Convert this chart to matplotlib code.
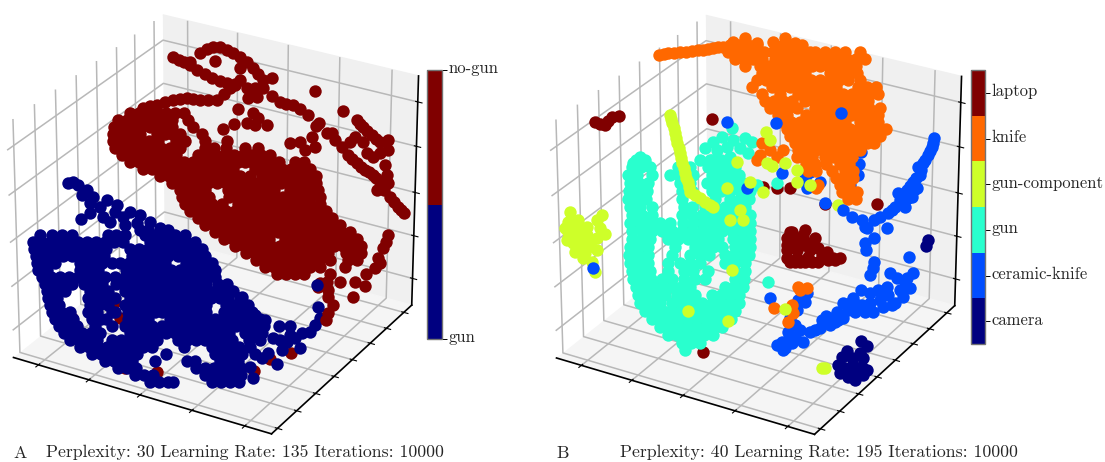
import numpy as np
import matplotlib
matplotlib.use("Agg")
import matplotlib.pyplot as plt
from matplotlib.colors import ListedColormap, BoundaryNorm
from matplotlib.colorbar import Colorbar

plt.rcParams["font.family"] = ["cmr10", "DejaVu Serif"]
plt.rcParams["axes.formatter.use_mathtext"] = True
plt.rcParams["axes.unicode_minus"] = False

W, H = 1105, 462
DOT = 80

# t-SNE points (x px, y px); rows are (y, [x, ...])
a_nogun_top = [(173,57),(179,60),(190,65),(205,74),(220,81),(235,85),(247,88),(263,88),(272,96),(280,102),(293,105),(300,109),(308,115),
    (319,123),(316,126),(315,91),(343,111),(184,62),(190,62),(197,70),(212,78),(227,83),(255,88),(286,104),(200,53),(207,49),(213,47),(220,47),(227,50),(233,53),(240,57),(247,62),(253,68),(258,74),
    (263,80),(272,78),(215,61),(240,68),(240,80),(235,84),(230,88),(224,94),(217,100),(208,100),(200,100),(193,99),(187,98),(180,99),(173,100),(165,102),(157,105),(150,106),(143,108),
    (248,98),(257,97),(252,90),(238,109),(223,129),(234,124),(247,123),(253,113),(258,118),(255,125),(267,125)]
a_nogun_mass = [
    (113, [130,139,148,157,166,175,184]),
    (120, [118,127,136,145,154,163,172,188]),
    (127, [114,123,132,141,150,158,165,172,193]),
    (134, [113,122,131,140,157,165,172,180,202]),
    (141, [113,122,131,140,149,158,176,185,205,227]),
    (148, [115,124,133,142,152,161,170,180,205,214,226,245,258]),
    (155, [122,131,140,149,158,167,176,198,207,216,225,234,243,252,261,270]),
    (162, [130,139,148,157,166,175,184,193,202,211,220,229,238,245,252,261,270,279,295,304]),
    (169, [143,152,161,170,179,188,197,206,215,224,233,255,264,273,282,291,300,310]),
    (176, [160,169,178,187,196,205,214,223,232,240,250,262,271,280,289,298,307,316]),
    (183, [172,181,190,199,208,217,226,236,245,254,263,272,281,290,299,308,316]),
    (190, [180,189,198,205,228,238,247,256,265,274,290,299,308,318]),
    (197, [182,191,200,209,229,238,247,256,265,274,283,292,301,310,320]),
    (204, [185,194,203,212,222,238,247,256,265,274,283,292,301,310,320]),
    (211, [190,199,208,217,226,235,244,253,262,271,280,289,298,307,316,326]),
    (218, [198,207,216,225,234,243,252,261,270,279,288,297,306,315,324,332]),
    (225, [205,214,223,232,241,250,259,268,277,286,295,304,313,322,331,340]),
    (232, [215,224,233,242,251,260,269,278,287,296,305,314,323,332,341,350]),
    (239, [224,233,242,251,260,269,285,294,303,312,321,330,339,348,357]),
    (246, [235,244,253,262,271,280,289,298,307,316,325,334,343,352,361]),
    (253, [246,255,264,273,282,291,300,309,318,328,346,355,361]),
    (260, [256,265,274,283,292,301,310,319,330,348,357]),
    (267, [265,274,283,292,301,310,320,345]),
    (274, [277,286,295,304,330]),
]
a_nogun_tail = [(327,282),(340,282),(320,283),(328,290),(328,297),(333,305),(328,313),(326,320),(318,287),(355,282),(365,286),(353,297),
    (366,274),(375,268),(380,263),(378,258),(383,248),(388,235),(386,242)]
a_nogun_streaks = [(357,120),(360,124),(363,127),(367,131),(372,135),(376,139),(380,142),(388,140),(388,150),(380,153),(367,153),(373,157),
    (385,165),(387,175),(355,137),(350,142),(363,142),(332,133),(335,140),(342,147),(348,155),(352,159),(357,163),(361,167),(365,170),(369,172),(373,175),(376,178),(380,182),
    (388,183),(377,190),(384,190),(390,197),(394,202),(398,207),(401,210),(404,213),(327,133),(290,143),(300,142),(312,137),(315,147),(305,150)]
a_nogun_under = [(72,318),(125,368),(157,372),(152,378),(115,302),(120,318),(270,359),(291,353),(254,371)]

a_gun_top = [(68,183),(73,182),(78,185),(87,190),(93,197),(107,200),(117,205),(130,212),(140,215),(150,222),(160,228),(81,219),(90,213),
    (103,217),(110,222),(100,207),(123,217),(137,223),(90,203),(82,195),(115,212),(148,230),(125,225),(140,230),(168,230)]
a_gun_mass = [
    (235, [40,52,62,72,108,116,125,145,155,165,175,185]),
    (242, [33,42,51,60,69,78,87,96,105,114,123,150,159,168,177,186,195]),
    (249, [34,43,52,61,70,79,88,97,106,130,139,148,157,166,175,184,193,202]),
    (256, [36,45,54,63,72,78,86,95,104,132,141,150,159,168,178,187,196,205]),
    (263, [37,46,55,80,84,93,102,112,120,129,138,147,156,165,186,195,204,212]),
    (270, [38,47,80,89,98,126,135,144,153,162,171,180,189,198,207,215]),
    (277, [42,51,60,69,78,87,96,105,115,125,134,143,152,161,170,179,188,197,206,215]),
    (284, [45,54,63,72,84,93,102,116,125,134,143,152,161,170,179,188,197,206,218,227]),
    (291, [47,56,65,90,99,108,125,134,143,152,161,170,179,188,197,206,215,224,233]),
    (298, [48,57,88,97,106,115,130,139,148,157,166,175,184,193,202,211,220,228,240]),
    (305, [50,59,90,99,108,125,134,143,152,161,170,179,188,197,206,226,235,244]),
    (312, [52,61,70,88,97,112,115,128,137,146,155,162,170,179,188,197,206,224,233,242,252]),
    (319, [55,64,73,92,101,106,128,137,148,170,179,188,197,206,215,224,233,242,251,260]),
    (326, [59,68,77,95,112,125,134,143,152,162,173,182,191,200,209,218,227,236,245,254,264]),
    (333, [64,73,82,91,100,130,139,148,157,166,175,184,193,202,211,220,229,245,254,262]),
    (340, [70,79,88,97,112,121,130,139,148,157,178,187,196,205,214,223,232,249]),
    (347, [80,89,98,107,116,125,134,143,152,184,212,221,230,239,250]),
    (354, [92,101,110,119,128,137,166,215,224,233,242,255]),
    (361, [105,114,123,132,155,187,195,220,229,238]),
    (368, [118,127,136,196,205,214,223,232,241]),
    (375, [135,144,153,205,214,223,232,241]),
    (382, [150,159,168,173,212,221,230,239]),
]
a_gun_tail = [(279,326),(290,326),(320,318),(315,325),(310,332),(302,333),(295,338),(287,342),(282,350),(300,348),(268,353),(262,358),(277,364),
    (250,367),(253,378),(317,285),(318,307),(242,297),(248,305),(255,315),(265,320),(260,328),(247,325),(260,340),(273,338),(280,340),(290,335)]

b_knife_top = [(659,55),(664,54),(668,53),(674,53),(680,52),(686,52),(692,51),(698,50),(703,50),(708,49),(713,48),(718,47),(723,47),(733,42),(745,38),(757,43),
    (773,42),(785,38),(795,43),(810,52)]
b_knife_mass = [
    (45, [730,739,748,757,775,784,793,802]),
    (52, [728,737,746,755,764,773,782,791,800,815,825,835,845,860]),
    (59, [735,744,753,762,775,784,793,802,811,820,829,838,847,856,865]),
    (66, [745,760,769,778,787,796,805,812,820,829,838,847,856]),
    (73, [762,771,780,789,798,805,830,839,848,857]),
    (80, [757,766,775,784,793,802,811,820,830,839,848,860]),
    (87, [752,772,781,790,800,809,818,827,836,858,867,876]),
    (94, [762,780,798,807,816,825,834,843,852,861,870,878]),
    (101, [765,774,783,792,805,814,823,832,841,850,859,868]),
    (108, [770,779,788,797,815,824,833,842,851,860,869,880]),
    (115, [778,787,806,815,824,833,842,851,860,869,878]),
    (122, [782,791,800,809,818,827,836,845,860,869,878]),
    (129, [787,796,805,814,823,832,841,850,859,868,877,886]),
    (136, [790,799,808,817,826,835,844,853,862,871,880]),
    (143, [795,804,813,822,831,840,849,858,867,874]),
    (150, [783,798,807,816,825,834,843,852,860]),
    (157, [797,803,812,825,834,843,852]),
    (164, [806,815,826,840,849]),
    (171, [808,816,832,845,853]),
    (178, [836,845,853]),
    (185, [818,840,849]),
    (192, [842,851,857]),
    (199, [848,856]),
]
b_knife_stray = [(762,143),(760,155),(770,150),(777,157),(757,160),(816,188),(798,287),(807,288),(774,308),(792,305),(788,322),(793,313),(800,290)]
b_ceramic_top = [(727,122),(782,173),(747,188),(807,173),(807,188),(851,145),(861,152),(859,164),(858,175),(850,185),(810,172),(805,178),(820,182),
    (825,203),(870,140)]
b_ceramic_front = [(776,123),(841,113)]
b_ceramic_right = [(934,138),(933,143),(932,147),(930,151),(928,155),(925,160),(923,163),(918,167),(920,175),(916,178),(913,182),(910,186),(907,190),(917,188),(912,197),(898,193),(905,207),
    (895,207),(888,213),(874,220),(887,228),(843,210),(852,217),(862,220),(865,227),(867,228),(874,238),(865,243),(866,250),(909,257),(874,262),
    (873,268),(870,275),(900,200),(880,217),(908,198),(902,200),(892,210),(921,170),(914,190),(905,195)]
b_ceramic_low = [(913,273),(890,273),(897,278),(905,282),(910,288),(903,297),(895,303),(887,287),(878,290),(880,300),(870,293),(861,290),(853,298),
    (862,305),(873,312),(865,312),(855,312),(843,303),(837,312),(843,318),(822,320),(830,325),(820,328),(810,332),(803,342),(795,337),(788,332),
    (785,348),(782,342),(792,343),(883,307),(892,305),(805,302),(797,310),(798,300),(807,293),(770,298),(777,345),(783,350),(593,268),(907,278),
    (848,310),(830,318),(815,330),(870,303),(888,295),(900,290),(795,325),(790,318),(838,320),(826,316),(850,303),(858,305),(835,322),(800,330),(788,340)]
b_gun_left = [(640,157),(633,163),(705,148),(713,142),(722,137),(732,128),(733,140),(745,138),(752,142),(727,147),(717,150),(740,148),(748,153),
    (710,160),(725,163),(730,157),(777,183),(757,185),(768,282)]
b_gun_mass = [
    (160, [636,645,700,712,721,730]),
    (167, [632,641,650,678,690,708,717,726,735]),
    (175, [628,637,652,670,679,688,693,712,721,730,739]),
    (183, [630,639,648,680,690,707,716,725,734,743]),
    (191, [629,638,647,682,692,712,721,730,740,750]),
    (199, [628,637,646,682,700,715,730,740,749]),
    (207, [630,640,652,684,692,705,715,725,735,745]),
    (215, [632,642,652,682,692,702,712,722,732,742,750]),
    (223, [630,640,650,660,670,683,693,703,713,723,733,743,750]),
    (231, [632,642,652,662,672,682,692,702,712,722,732,742,750]),
    (239, [632,641,650,668,678,688,698,708,718,733,742,750]),
    (247, [630,639,648,675,695,704,713,722,735,744,750]),
    (255, [629,638,648,672,690,700,709,725,734,743,749]),
    (263, [630,639,648,668,680,690,700,725,735,745]),
    (271, [632,641,650,668,684,693,708,735,745]),
    (279, [633,642,651,662,672,684,695,705,735,744]),
    (287, [636,645,654,663,672,681,690,725,734,743]),
    (295, [638,647,656,665,677,686,695,712,721,730,739]),
    (303, [640,650,660,672,682,692,702,712,721,730,739]),
    (311, [645,654,663,672,681,690,699,708,717,726,735]),
    (319, [652,661,670,679,688,697,706,715,724,731]),
    (327, [660,669,678,687,696,705,714,722]),
    (335, [668,677,686,695,704,713]),
    (343, [682,691,700]),
    (350, [685]),
]
b_component_blob = [(570,212),(578,220),(573,227),(602,215),(597,220),(587,227),(605,234),(568,232),(567,240),(577,235),(587,235),(597,238),(575,252),
    (588,247),(597,250),(583,258),(592,262),(595,272),(573,243),(583,243),(591,241),(568,222),(580,228),(565,228),(578,245),(585,253),(600,228)]
b_component_under = [(818,99),(838,205)]
b_component_streak = [(670,115),(671,119),(672,123),(674,128),(675,133),(676,138),(677,143),(679,148),(680,153),(681,158),(682,163),(684,168),(685,173),
    (686,178),(688,182),(689,187),(690,192),(695,195),(700,198),(705,202),(710,205),(713,207)]
b_component_stray = [(766,132),(770,140),(767,163),(772,166),(785,163),(797,170),(797,182),(810,185),(737,162),(727,188),(750,182),(763,192),(740,210),
    (730,220),(743,220),(688,311),(728,321),(732,270),(785,309),(825,368),(822,368)]
b_laptop = [(595,122),(600,124),(605,125),(612,117),(619,116),(608,121),(712,119),(777,188),(790,188),(763,187),(825,204),(877,204),(703,352),
    (790,232),(803,235),(787,245),(795,248),(805,245),(815,238),(787,258),(797,258),(808,257),(818,248),(827,252),(818,262),(833,258),(840,258),
    (800,262),(828,260),(792,232),(805,230),(790,262),(787,250),(810,250),(792,240),(803,241),(825,258),(797,240),(810,243),(822,255),(835,260),(797,250),(787,238),(812,262),(805,262),(795,262)]
b_camera = [(928,240),(926,246),(861,341),(867,346),(860,353),(847,351),(842,357),(863,358),(838,365),(845,368),(853,365),(862,367),(867,370),(840,373),
    (848,377),(855,380),(863,375),(853,304),(852,358),(848,372),(858,373)]

x_ticks = [0.1, 0.3, 0.5, 0.7, 0.9]
y_ticks = [0.04, 0.17, 0.30, 0.43, 0.56, 0.69, 0.81, 0.94]
z_ticks = [0.12, 0.31, 0.5, 0.7, 0.89]
a_labels = ["gun", "no-gun"]
a_label_at = [0, 2]
b_labels = ["camera", "ceramic-knife", "gun", "gun-component", "knife", "laptop"]
b_label_at = [0.5, 1.5, 2.5, 3.5, 4.5, 5.5]
a_caption = "Perplexity: 30 Learning Rate: 135 Iterations: 10000"
b_caption = "Perplexity: 40 Learning Rate: 195 Iterations: 10000"

jet6 = plt.get_cmap("jet", 6)
camera, ceramic, gun, component, knife, laptop = [jet6(i) for i in range(6)]
navy, maroon = camera, laptop


def px_axes(x0, y0, x1, y1, **kw):
    return fig.add_axes([x0 / W, 1 - y1 / H, (x1 - x0) / W, (y1 - y0) / H], **kw)


def frame(cx, cy, size):
    ax = px_axes(cx - size / 2, cy - size / 2, cx + size / 2, cy + size / 2, projection="3d")
    ax.patch.set_alpha(0)
    ax.view_init(elev=27.5, azim=-60)
    ax.set_proj_type("persp", focal_length=1.5)
    ax.set_box_aspect((1, 1, 0.88), zoom=1.115)
    ax.set_xlim(0, 1)
    ax.set_ylim(0, 1)
    ax.set_zlim(0, 1)
    ax.set_xticks(x_ticks)
    ax.set_yticks(y_ticks)
    ax.set_zticks(z_ticks)
    ax.set_xticklabels([])
    ax.set_yticklabels([])
    ax.set_zticklabels([])
    ax.xaxis.set_pane_color((1, 1, 1, 1))
    ax.yaxis.set_pane_color((0.94, 0.94, 0.94, 1))
    ax.zaxis.set_pane_color((0.96, 0.96, 0.96, 1))
    for axis in (ax.xaxis, ax.yaxis, ax.zaxis):
        axis._axinfo["grid"].update(color=(0.72, 0.72, 0.72), linewidth=1.1)
        axis.line.set_linewidth(1.2)
    return ax


def rows(table):
    return [(x, y) for y, xs in table for x in xs]


def dots(ax, pts, color):
    pts = np.array(pts)
    ax.scatter(pts[:, 0], pts[:, 1], s=DOT, color=color, linewidths=0)


def colorbar(x0, y0, x1, y1, labels, where, colors):
    cax = px_axes(x0, y0, x1, y1)
    n = len(colors)
    cb = Colorbar(cax, cmap=ListedColormap(colors), norm=BoundaryNorm(np.arange(n + 1), n), spacing="uniform")
    cb.outline.set_edgecolor("0.45")
    cb.outline.set_linewidth(1.0)
    cb.minorticks_off()
    cb.set_ticks(where)
    cb.set_ticklabels([])
    cax.tick_params(length=3.5, width=0.7)
    for v, label in zip(where, labels):
        cax.annotate(label, xy=(1, v), xycoords=cax.get_yaxis_transform(), xytext=(4.8, 0.9),
                     textcoords="offset points", va="center", fontsize=12, color="0.15")
    return cb


fig = plt.figure(figsize=(W / 100, H / 100), dpi=100)

frame(209.5, 223, 430)
frame(752.5, 223.5, 430)

# picture-coordinate layer for the scatter marks
top = px_axes(0, 0, W, H)
top.set_xlim(0, W)
top.set_ylim(H, 0)
top.axis("off")

dots(top, a_nogun_under, maroon)
dots(top, a_gun_top, navy)
dots(top, rows(a_gun_mass), navy)
dots(top, a_gun_tail[:15], navy)
dots(top, a_nogun_top, maroon)
dots(top, rows(a_nogun_mass), maroon)
dots(top, a_nogun_tail, maroon)
dots(top, a_nogun_streaks, maroon)
dots(top, a_gun_tail[15:], navy)

dots(top, b_laptop, laptop)
dots(top, b_camera, camera)
dots(top, b_component_blob, component)
dots(top, b_component_under, component)
dots(top, b_gun_left, gun)
dots(top, rows(b_gun_mass), gun)
dots(top, b_component_streak, component)
dots(top, b_ceramic_top, ceramic)
dots(top, b_ceramic_right, ceramic)
dots(top, b_ceramic_low, ceramic)
dots(top, b_knife_top, knife)
dots(top, rows(b_knife_mass), knife)
dots(top, b_knife_stray, knife)
dots(top, b_component_stray, component)
dots(top, b_ceramic_front, ceramic)

colorbar(427, 70, 441.5, 339, a_labels, a_label_at, [navy, maroon])
colorbar(971, 70, 985, 344, b_labels, b_label_at, [camera, ceramic, gun, component, knife, laptop])

fig.text(13 / W, 1 - 457.5 / H, "A", fontsize=12.75, color="0.15", va="baseline")
fig.text(46 / W, 1 - 457.5 / H, a_caption, fontsize=12.75, color="0.15", va="baseline")
fig.text(556 / W, 1 - 457.5 / H, "B", fontsize=12.75, color="0.15", va="baseline")
fig.text(620 / W, 1 - 457.5 / H, b_caption, fontsize=12.75, color="0.15", va="baseline")

fig.savefig("out.png", dpi=100)
